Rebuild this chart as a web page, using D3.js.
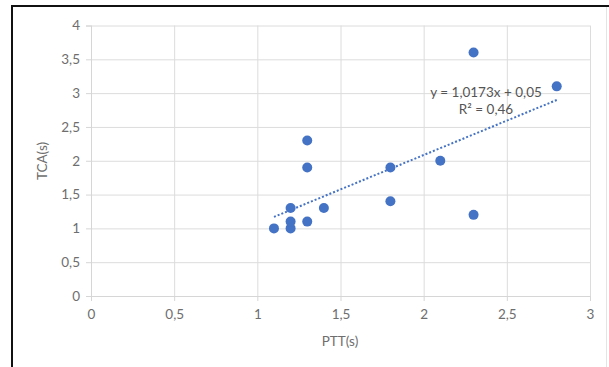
<!DOCTYPE html>
<html>
<head>
<meta charset="utf-8">
<script src="https://cdn.jsdelivr.net/npm/d3@7"></script>
<style>
  body { margin: 0; background: #fff; }
  svg { display: block; }
</style>
</head>
<body>
<svg id="chart" width="609" height="367"></svg>
<script>
// data
var pttValues = [1.1, 1.2, 1.2, 1.2, 1.3, 1.3, 1.3, 1.4, 1.8, 1.8, 2.1, 2.3, 2.3, 2.8];
var tcaValues = [1.0, 1.0, 1.1, 1.3, 1.1, 1.9, 2.3, 1.3, 1.9, 1.4, 2.0, 3.6, 1.2, 3.1];
var xTicks = [0, 0.5, 1, 1.5, 2, 2.5, 3];
var yTicks = [0, 0.5, 1, 1.5, 2, 2.5, 3, 3.5, 4];
var trendSlope = 1.0173;
var trendIntercept = 0.05;
var trendLabels = ["y = 1,0173x + 0,05", "R² = 0,46"];

var Blue = "#4472c4";
var Gray = "#6e6e6e";
var Font = "Lato, 'Open Sans', sans-serif";

var svg = d3.select("#chart");

var x = d3.scaleLinear().domain([0, 3]).range([91, 590]);
var y = d3.scaleLinear().domain([0, 4]).range([296, 25.5]);
var fmt = function (v) { return String(v).replace(".", ","); };

// frame: heavy top and left edge, faint right edge
svg.append("line").attr("x1", 11).attr("x2", 609).attr("y1", 6).attr("y2", 6)
    .attr("stroke", "#111").attr("stroke-width", 2);
svg.append("line").attr("x1", 12).attr("x2", 12).attr("y1", 5).attr("y2", 367)
    .attr("stroke", "#111").attr("stroke-width", 2);
svg.append("line").attr("x1", 606.5).attr("x2", 606.5).attr("y1", 7).attr("y2", 367)
    .attr("stroke", "#e4e4e4").attr("stroke-width", 1);

// gridlines, drawn with the axes' own ticks
var gridX = svg.append("g").attr("transform", "translate(0,296)")
    .call(d3.axisBottom(x).tickValues(xTicks).tickSize(-(296 - 25.5)).tickFormat(""));
var gridY = svg.append("g").attr("transform", "translate(91,0)")
    .call(d3.axisLeft(y).tickValues(yTicks).tickSize(-(590 - 91)).tickFormat(""));
[gridX, gridY].forEach(function (g) {
    g.select(".domain").remove();
    g.selectAll("line").attr("stroke", "#dcdcdc").attr("stroke-width", 1);
});

// axes with short outer ticks
var xAxis = svg.append("g").attr("transform", "translate(0,296)")
    .call(d3.axisBottom(x).tickValues(xTicks).tickSize(5).tickPadding(8).tickFormat(fmt));
var yAxis = svg.append("g").attr("transform", "translate(91,0)")
    .call(d3.axisLeft(y).tickValues(yTicks).tickSize(5).tickPadding(6).tickFormat(fmt));
[xAxis, yAxis].forEach(function (g) {
    g.select(".domain").attr("stroke", "#d6d6d6");
    g.selectAll("line").attr("stroke", "#d6d6d6");
    g.selectAll("text").attr("fill", Gray).attr("font-family", Font).attr("font-size", 13.5);
});

// axis titles
svg.append("text").attr("x", 340).attr("y", 346).attr("text-anchor", "middle")
    .attr("fill", Gray).attr("font-family", Font).attr("font-size", 13.5).text("PTT(s)");
svg.append("text").attr("transform", "translate(47,161) rotate(-90)").attr("text-anchor", "middle")
    .attr("fill", Gray).attr("font-family", Font).attr("font-size", 13.5).text("TCA(s)");

// linear trendline across the data range
var xMin = d3.min(pttValues), xMax = d3.max(pttValues);
svg.append("line")
    .attr("x1", x(xMin)).attr("y1", y(trendSlope * xMin + trendIntercept))
    .attr("x2", x(xMax)).attr("y2", y(trendSlope * xMax + trendIntercept))
    .attr("stroke", Blue).attr("stroke-width", 2).attr("stroke-dasharray", "2,2");

// points
svg.append("g").selectAll("circle")
    .data(pttValues.map(function (v, i) { return [v, tcaValues[i]]; }))
    .join("circle")
    .attr("cx", function (d) { return x(d[0]); })
    .attr("cy", function (d) { return y(d[1]); })
    .attr("r", 5)
    .attr("fill", Blue);

// trendline label
svg.append("g").selectAll("text")
    .data(trendLabels)
    .join("text")
    .attr("x", 486)
    .attr("y", function (d, i) { return 97 + i * 17; })
    .attr("text-anchor", "middle")
    .attr("fill", "#555")
    .attr("font-family", Font)
    .attr("font-size", 13.5)
    .text(function (d) { return d; });
</script>
</body>
</html>
